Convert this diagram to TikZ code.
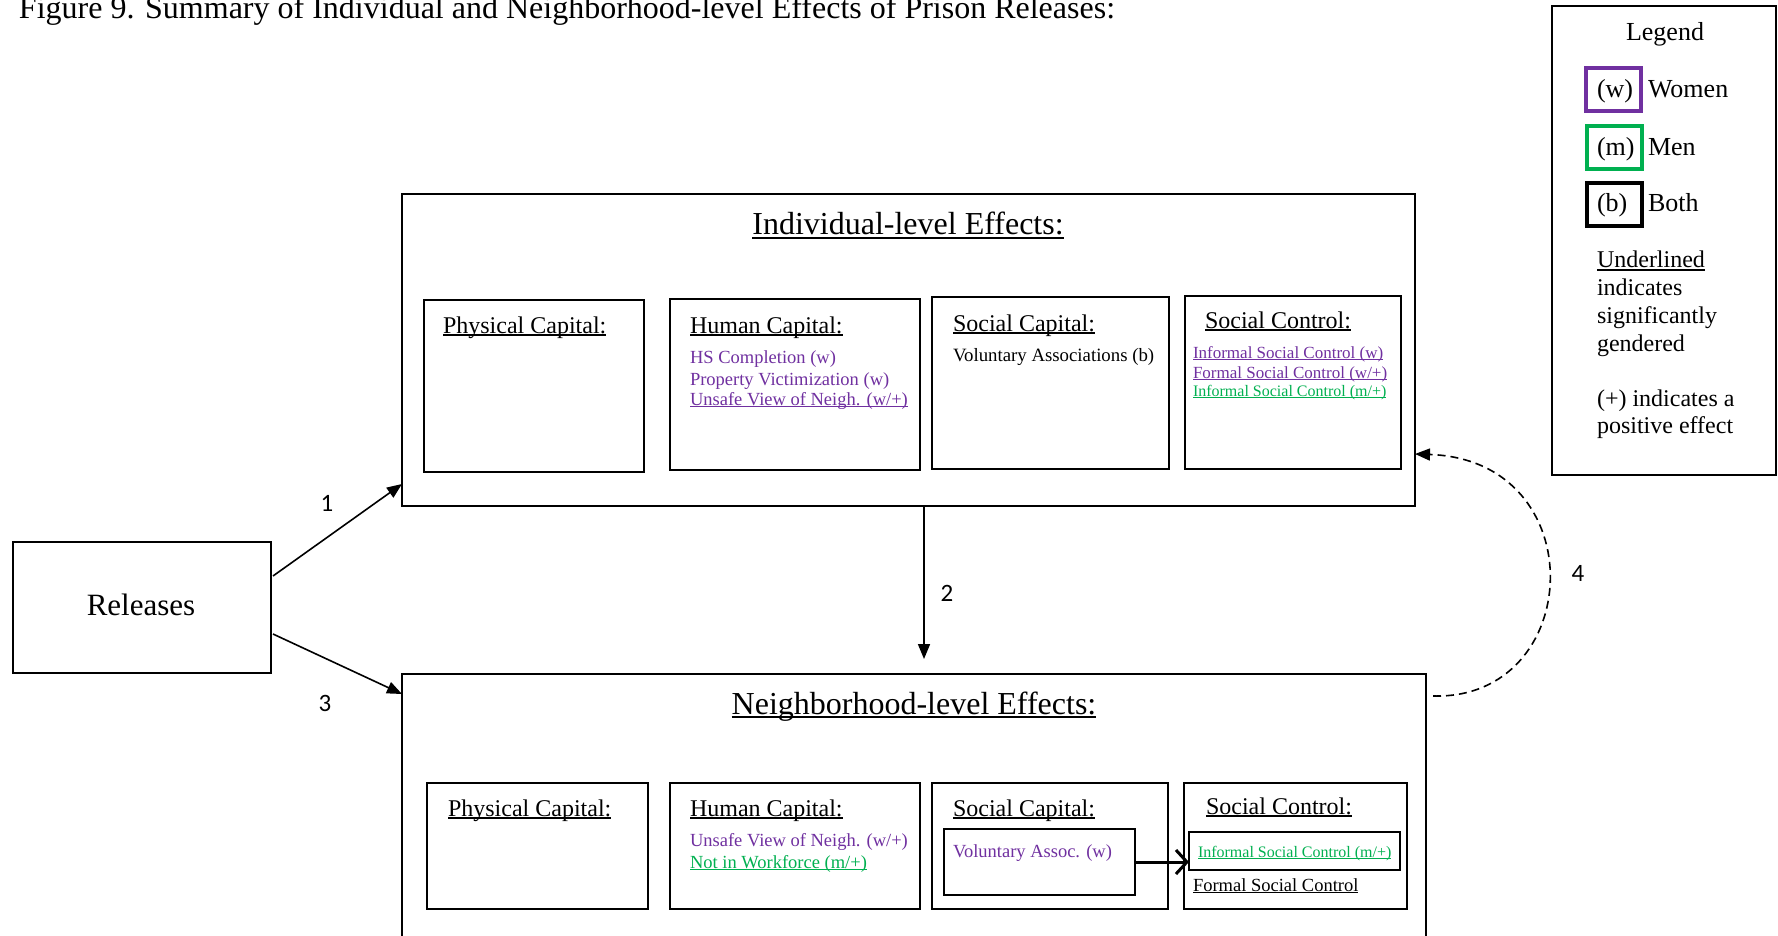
\documentclass[tikz,border=0pt]{standalone}
\usepackage{fontspec}
\setmainfont{Liberation Serif}
\newfontfamily\numfont{Carlito}
\usetikzlibrary{arrows.meta}
\definecolor{wpurple}{HTML}{7030A0}
\definecolor{mgreen}{HTML}{00B050}
\newcommand{\uln}[1]{\leavevmode\setbox0=\hbox{#1}\rlap{\rule[-0.12em]{\wd0}{0.065em}}\box0}
\newcommand{\fsz}[1]{\fontsize{#1}{#1}\selectfont}
\begin{document}
\begin{tikzpicture}[x=1pt,y=-1pt,
  box/.style={draw, line width=2pt, anchor=north west, inner sep=0pt, outer sep=0pt},
  cell/.style={draw, line width=1.5pt, anchor=north west, inner sep=0pt, outer sep=0pt},
  lbox/.style={draw, line width=4.5pt, anchor=north west, inner sep=0pt, outer sep=0pt},
  txt/.style={anchor=base west, inner sep=0pt, outer sep=0pt},
  ctxt/.style={anchor=base, inner sep=0pt, outer sep=0pt},
  arr/.style={line width=1.6pt, -{Triangle[length=15pt,width=12pt]}},
  num/.style={font=\numfont\fsz{25}, inner sep=0pt, anchor=base}]
\useasboundingbox (0,0) rectangle (1778,936);
\clip (0,0) rectangle (1778,936);
\fill[white] (0,0) rectangle (1778,936);

% caption
\node[txt, font=\fsz{32}] (cap) at (19,19) {Figure 9. Summary of Individual and Neighborhood-level Effects of Prison Releases:};

% Releases
\node[box, minimum width=258pt, minimum height=131pt] (rel) at (13,542) {};
\node[ctxt, font=\fsz{31}] (reltxt) at (141,615) {Releases};

% Individual-level box
\node[box, minimum width=1013pt, minimum height=312pt] (ind) at (402,194) {};
\node[ctxt, font=\fsz{32}] (indtitle) at (908,235) {\uln{Individual-level Effects:}};
\node[cell, minimum width=220pt, minimum height=172pt] (ipc) at (424,300) {};
\node[cell, minimum width=250pt, minimum height=171pt] (ihc) at (670,299) {};
\node[cell, minimum width=237pt, minimum height=172pt] (isc) at (932,297) {};
\node[cell, minimum width=216pt, minimum height=173pt] (ict) at (1185,296) {};
\node[txt, font=\fsz{24}] (ipct) at (443,333) {\uln{Physical Capital:}};
\node[txt, font=\fsz{24}] (ihct) at (690,333) {\uln{Human Capital:}};
\node[txt, font=\fsz{18.5}, text=wpurple] (ih1) at (690,363) {HS Completion (w)};
\node[txt, font=\fsz{18.5}, text=wpurple] (ih2) at (690,385) {Property Victimization (w)};
\node[txt, font=\fsz{18.5}, text=wpurple] (ih3) at (690,405) {\uln{Unsafe View of Neigh. (w/+)}};
\node[txt, font=\fsz{24}] (isct) at (953,331) {\uln{Social Capital:}};
\node[txt, font=\fsz{18.8}] (is1) at (953,361) {Voluntary Associations (b)};
\node[txt, font=\fsz{24}] (ictt) at (1205,328) {\uln{Social Control:}};
\node[txt, font=\fsz{17}, text=wpurple] (ic1) at (1193,358) {\uln{Informal Social Control (w)}};
\node[txt, font=\fsz{17}, text=wpurple] (ic2) at (1193,378) {\uln{Formal Social Control (w/+)}};
\node[txt, font=\fsz{16}, text=mgreen] (ic3) at (1193,396) {\uln{Informal Social Control (m/+)}};

% Neighborhood-level box
\node[box, minimum width=1024pt, minimum height=320pt] (nb) at (402,674) {};
\node[ctxt, font=\fsz{32}] (nbtitle) at (914,714) {\uln{Neighborhood-level Effects:}};
\node[cell, minimum width=221pt, minimum height=126pt] (npc) at (427,783) {};
\node[cell, minimum width=250pt, minimum height=126pt] (nhc) at (670,783) {};
\node[cell, minimum width=236pt, minimum height=126pt] (nsc) at (932,783) {};
\node[cell, minimum width=223pt, minimum height=126pt] (nct) at (1184,783) {};
\node[cell, minimum width=191pt, minimum height=66pt] (nva) at (944,829) {};
\node[cell, minimum width=211pt, minimum height=38pt] (nis) at (1189,832) {};
\node[txt, font=\fsz{24}] (npct) at (448,816) {\uln{Physical Capital:}};
\node[txt, font=\fsz{24}] (nhct) at (690,816) {\uln{Human Capital:}};
\node[txt, font=\fsz{18.5}, text=wpurple] (nh1) at (690,846) {Unsafe View of Neigh. (w/+)};
\node[txt, font=\fsz{18.5}, text=mgreen] (nh2) at (690,868) {\uln{Not in Workforce (m/+)}};
\node[txt, font=\fsz{24}] (nsct) at (953,816) {\uln{Social Capital:}};
\node[txt, font=\fsz{18.5}, text=wpurple] (ns1) at (953,857) {Voluntary Assoc. (w)};
\node[txt, font=\fsz{24}] (nctt) at (1206,814) {\uln{Social Control:}};
\node[txt, font=\fsz{16}, text=mgreen] (nc1) at (1198,857) {\uln{Informal Social Control (m/+)}};
\node[txt, font=\fsz{18.5}] (nc2) at (1193,891) {\uln{Formal Social Control}};
\draw[line width=3pt, -{Straight Barb[length=11pt,width=24pt,line width=3pt]}] (nva.east) -- (nva.east -| nis.west);

% Legend
\node[box, minimum width=224pt, minimum height=469pt] (leg) at (1552,6) {};
\node[ctxt, font=\fsz{26}] (legt) at (1665,41) {Legend};
\node[lbox, draw=wpurple, minimum width=55pt, minimum height=43pt] (lw) at (1586,68) {};
\node[lbox, draw=mgreen, minimum width=55pt, minimum height=43pt] (lm) at (1587,126) {};
\node[lbox, draw=black, minimum width=55pt, minimum height=43pt] (lb) at (1587,183) {};
\node[txt, font=\fsz{26}] (lwt) at (1597,98) {(w)};
\node[txt, font=\fsz{26}] (lwl) at (1648,98) {Women};
\node[txt, font=\fsz{26}] (lmt) at (1597,156) {(m)};
\node[txt, font=\fsz{26}] (lml) at (1648,156) {Men};
\node[txt, font=\fsz{26}] (lbt) at (1597,212) {(b)};
\node[txt, font=\fsz{26}] (lbl) at (1648,212) {Both};
\node[txt, font=\fsz{24}] (n1) at (1597,268) {\uln{Underlined}};
\node[txt, font=\fsz{24}] (n2) at (1597,295) {indicates};
\node[txt, font=\fsz{24}] (n3) at (1597,323) {significantly};
\node[txt, font=\fsz{24}] (n4) at (1597,351) {gendered};
\node[txt, font=\fsz{24}] (n5) at (1597,406) {(+) indicates a};
\node[txt, font=\fsz{24}] (n6) at (1597,433) {positive effect};

% connectors
\draw[arr] ([xshift=2pt,yshift=31.5pt]rel.east) -- ([yshift=-134pt]ind.west);
\draw[arr] ([xshift=2pt,yshift=-26.5pt]rel.east) -- ([yshift=-20pt]nb.north west);
\coordinate (a2e) at (924,659);
\draw[arr] (ind.south -| a2e) -- (a2e);
\draw[arr, dash pattern=on 8pt off 5pt] ([xshift=7pt,yshift=-22pt]nb.north east) .. controls (1585,700) and (1595,460) .. ([yshift=52pt]ind.south east);

\node[num] (l1) at (327,511) {1};
\node[num] (l2) at (947,601) {2};
\node[num] (l3) at (325,711) {3};
\node[num] (l4) at (1578,581) {4};
\end{tikzpicture}
\end{document}
